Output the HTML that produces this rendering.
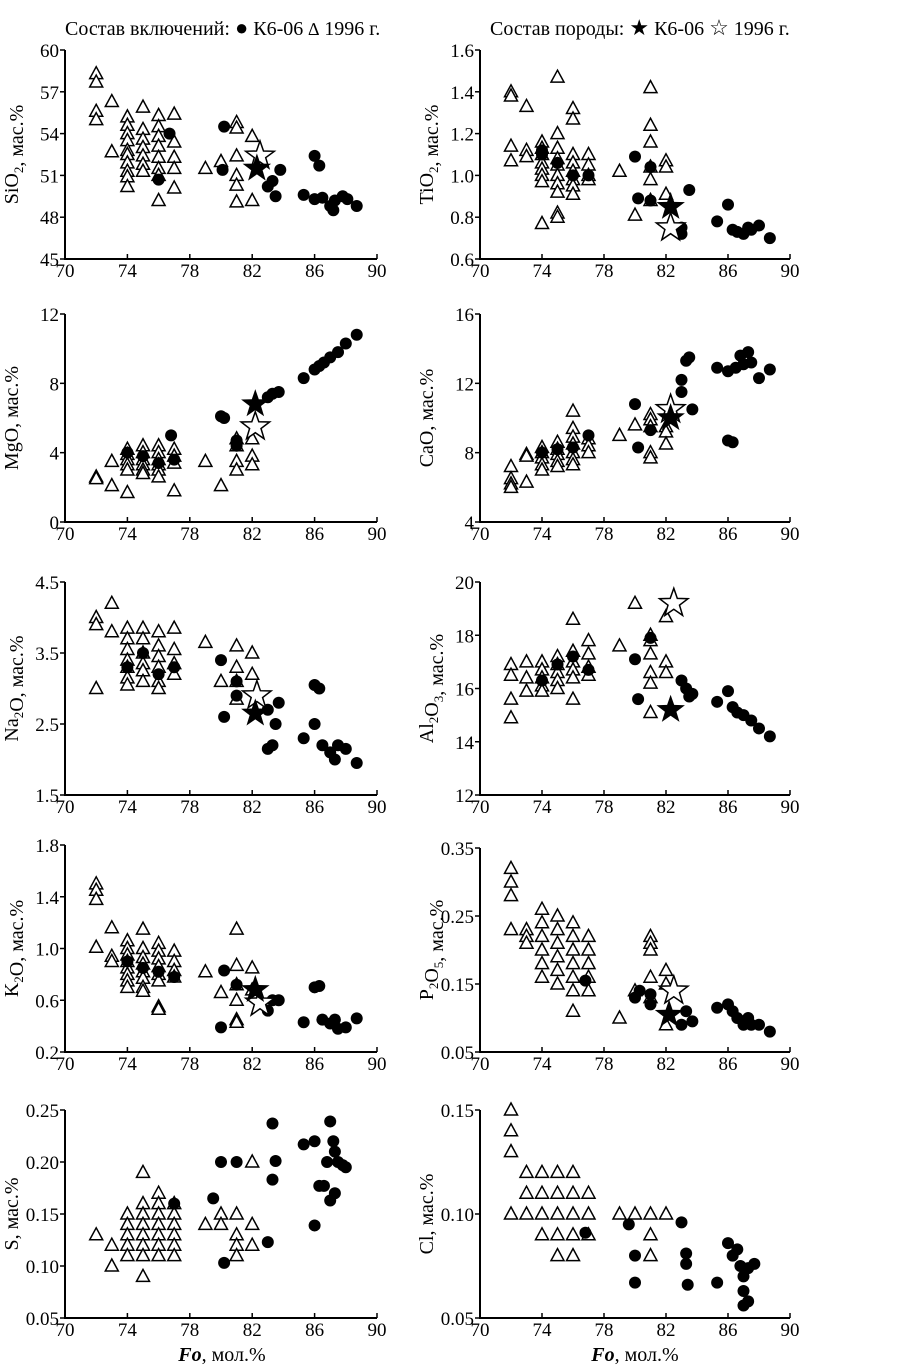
<!DOCTYPE html>
<html><head><meta charset="utf-8">
<style>
html,body{margin:0;padding:0;background:#fff;}
svg{display:block;font-family:"Liberation Serif",serif;}
</style></head>
<body>
<svg id="chart" width="917" height="1366" viewBox="0 0 917 1366" xmlns="http://www.w3.org/2000/svg">
<g>
<text x="65" y="35" font-size="20">Состав включений: <tspan font-size="22">●</tspan> К6-06  <tspan font-size="18">∆</tspan> 1996 г.</text>
</g>
<g>
<text x="490" y="35" font-size="20">Состав породы: <tspan font-size="22">★</tspan> К6-06  <tspan font-size="22">☆</tspan> 1996 г.</text>
</g>
<text x="222" y="1361" font-size="20" text-anchor="middle"><tspan font-style="italic" font-weight="bold">Fo</tspan>, мол.%</text>
<text x="635" y="1361" font-size="20" text-anchor="middle"><tspan font-style="italic" font-weight="bold">Fo</tspan>, мол.%</text>
</svg>
<script>
const xTicks = ["70","74","78","82","86","90"];

// SiO2
const siTri = [[72,[58.3,57.7,55.6,55.0]],[73,[56.3,52.7]],[74,[55.2,54.6,54,53.5,52.8,52.5,51.9,51.3,50.9,50.2]],[75,[55.9,54.3,53.6,53,52.4,51.8,51.3]],[76,[55.3,54.5,53.8,53.1,52.3,51.5,51,49.2]],[77,[55.4,53.4,52.3,51.5,50.1]],[79,[51.5]],[80,[52]],[81,[54.8,54.4,52.4,51,50.3,49.1]],[82,[53.8,49.2]]];
const siCirc = [[76,50.7],[76.7,54],[80.2,54.5],[80.1,51.4],[83,50.2],[83.3,50.6],[83.5,49.5],[83.8,51.4],[85.3,49.6],[86,52.4],[86.3,51.7],[86,49.3],[86.5,49.4],[87,48.8],[87.2,48.5],[87.3,49.2],[87.8,49.5],[88.1,49.3],[88.7,48.8]];
const siStarF = [[82.3,51.5]];
const siStarO = [[82.5,52.4]];
const siTicks = ["45","48","51","54","57","60"];

// TiO2
const tiTri = [[72,[1.4,1.38,1.14,1.07]],[73,[1.33,1.12,1.09]],[74,[1.16,1.13,1.1,1.06,1.03,1.0,0.97,0.77]],[75,[1.47,1.2,1.13,1.08,1.05,1.0,0.96,0.92,0.82,0.8]],[76,[1.32,1.27,1.1,1.06,1.02,0.98,0.95,0.91]],[77,[1.1,1.05,1.0,0.98]],[79,[1.02]],[80,[0.81]],[81,[1.42,1.24,1.16,1.04,0.98,0.88]],[82,[1.07,1.04,0.91]]];
const tiCirc = [[74,1.12],[74,1.1],[75,1.06],[76,1.0],[77,1.0],[80,1.09],[80.2,0.89],[81,0.88],[81,1.04],[83,0.75],[83,0.72],[83.5,0.93],[85.3,0.78],[86,0.86],[86.3,0.74],[86.6,0.73],[87,0.72],[87.3,0.75],[87.5,0.74],[88,0.76],[88.7,0.7]];
const tiStarF = [[82.3,0.85]];
const tiStarO = [[82.3,0.75]];
const tiTicks = ["0.6","0.8","1.0","1.2","1.4","1.6"];

// MgO
const mgTri = [[72,[2.6,2.5]],[73,[3.5,2.1]],[74,[4.2,3.9,3.6,3.3,3.0,1.7]],[75,[4.4,4.0,3.6,3.3,3.0,2.8]],[76,[4.4,4.0,3.6,3.3,3.0,2.6]],[77,[4.2,3.8,3.4,1.8]],[79,[3.5]],[80,[2.1]],[81,[4.8,4.4,3.5,3.0]],[82,[4.8,3.8,3.3]]];
const mgCirc = [[74,4.0],[75,3.8],[76,3.4],[76.8,5.0],[77,3.6],[80,6.1],[80.2,6.0],[81,4.7],[81,4.4],[83,7.2],[83.3,7.4],[83.7,7.5],[85.3,8.3],[86,8.8],[86.3,9.0],[86.6,9.2],[87,9.5],[87.5,9.8],[88,10.3],[88.7,10.8]];
const mgStarF = [[82.2,6.8]];
const mgStarO = [[82.2,5.5]];
const mgTicks = ["0","4","8","12"];

// CaO
const caTri = [[72,[7.2,6.5,6.2,6.0]],[73,[7.9,7.8,6.3]],[74,[8.3,8.0,7.7,7.3,7.0]],[75,[8.6,8.2,7.9,7.5,7.2]],[76,[10.4,9.4,8.9,8.5,8.0,7.6,7.3]],[77,[8.8,8.4,8.0]],[79,[9.0]],[80,[9.6]],[81,[10.2,9.9,9.5,8.0,7.7]],[82,[9.5,9.2,8.5]]];
const caCirc = [[74,8.0],[75,8.2],[76,8.3],[77,9.0],[80,10.8],[80.2,8.3],[81,9.3],[83,12.2],[83.3,13.3],[83.5,13.5],[83,11.5],[83.7,10.5],[85.3,12.9],[86,8.7],[86.3,8.6],[86,12.7],[86.5,12.9],[86.8,13.6],[87,13.1],[87.3,13.8],[87.5,13.2],[88,12.3],[88.7,12.8]];
const caStarF = [[82.3,10.0]];
const caStarO = [[82.3,10.5]];
const caTicks = ["4","8","12","16"];

// Na2O
const naTri = [[72,[4.0,3.9,3.0]],[73,[4.2,3.8]],[74,[3.85,3.7,3.55,3.4,3.3,3.15,3.05]],[75,[3.85,3.7,3.5,3.35,3.25,3.1]],[76,[3.8,3.6,3.45,3.3,3.1,3.0]],[77,[3.85,3.55,3.35,3.2]],[79,[3.65]],[80,[3.1]],[81,[3.6,3.3,3.1,2.85]],[82,[3.5,3.2]]];
const naCirc = [[74,3.3],[75,3.5],[76,3.2],[77,3.3],[80,3.4],[80.2,2.6],[81,3.1],[81,2.9],[83,2.7],[83,2.15],[83.3,2.2],[83.5,2.5],[83.7,2.8],[85.3,2.3],[86,3.05],[86.3,3.0],[86,2.5],[86.5,2.2],[87,2.1],[87.3,2.0],[87.5,2.2],[88,2.15],[88.7,1.95]];
const naStarF = [[82.2,2.65]];
const naStarO = [[82.3,2.9]];
const naTicks = ["1.5","2.5","3.5","4.5"];

// Al2O3
const alTri = [[72,[16.9,16.5,15.6,14.9]],[73,[17.0,16.4,15.9]],[74,[17.0,16.7,16.4,16.1,15.9]],[75,[17.2,16.9,16.6,16.3,16.0]],[76,[18.6,17.4,17.0,16.7,16.4,15.6]],[77,[17.8,17.3,16.8,16.5]],[79,[17.6]],[80,[19.2]],[81,[18.0,17.8,17.3,16.6,16.2,15.1]],[82,[18.7,17.0,16.6]]];
const alCirc = [[74,16.3],[75,16.9],[76,17.2],[77,16.7],[80,17.1],[80.2,15.6],[81,17.9],[83,16.3],[83.3,16.0],[83.5,15.7],[83.7,15.8],[85.3,15.5],[86,15.9],[86.3,15.3],[86.6,15.1],[87,15.0],[87.5,14.8],[88,14.5],[88.7,14.2]];
const alStarF = [[82.3,15.2]];
const alStarO = [[82.5,19.2]];
const alTicks = ["12","14","16","18","20"];

// K2O
const kTri = [[72,[1.5,1.45,1.38,1.01]],[73,[1.16,0.94,0.9]],[74,[1.06,1.0,0.95,0.9,0.85,0.8,0.75,0.7]],[75,[1.15,1.0,0.93,0.88,0.82,0.77,0.7,0.67]],[76,[1.04,0.98,0.92,0.86,0.8,0.75,0.55,0.53]],[77,[0.98,0.9,0.83,0.78]],[79,[0.82]],[80,[0.66]],[81,[1.15,0.87,0.72,0.6,0.45,0.43]],[82,[0.85,0.68]]];
const kCirc = [[74,0.9],[75,0.85],[76,0.82],[77,0.78],[80,0.39],[80.2,0.83],[81,0.72],[83,0.52],[83.3,0.6],[83.7,0.6],[85.3,0.43],[86,0.7],[86.3,0.71],[86.5,0.45],[87,0.42],[87.5,0.38],[88,0.39],[88.7,0.46],[87.3,0.45]];
const kStarF = [[82.2,0.68]];
const kStarO = [[82.5,0.58]];
const kTicks = ["0.2","0.6","1.0","1.4","1.8"];

// P2O5
const pTri = [[72,[0.32,0.3,0.28,0.23]],[73,[0.23,0.22,0.21]],[74,[0.26,0.24,0.22,0.2,0.18,0.16]],[75,[0.25,0.23,0.21,0.19,0.17,0.15]],[76,[0.24,0.22,0.2,0.18,0.16,0.14,0.11]],[77,[0.22,0.2,0.18,0.16,0.14]],[79,[0.1]],[80,[0.14]],[81,[0.22,0.21,0.2,0.16,0.13]],[82,[0.17,0.15,0.09]]];
const pCirc = [[76.8,0.155],[80,0.13],[80.3,0.14],[81,0.135],[81,0.12],[83,0.09],[83.3,0.11],[83.7,0.095],[85.3,0.115],[86,0.12],[86.3,0.11],[86.6,0.1],[87,0.09],[87.3,0.1],[87.5,0.09],[88,0.09],[88.7,0.08]];
const pStarF = [[82.2,0.105]];
const pStarO = [[82.5,0.14]];
const pTicks = ["0.05","0.15","0.25","0.35"];

// S
const sTri = [[72,[0.13]],[73,[0.12,0.1]],[74,[0.15,0.14,0.13,0.12,0.11]],[75,[0.19,0.16,0.15,0.14,0.13,0.12,0.11,0.09]],[76,[0.17,0.16,0.15,0.14,0.13,0.12,0.11]],[77,[0.16,0.15,0.14,0.13,0.12,0.11]],[79,[0.14]],[80,[0.15,0.14]],[81,[0.15,0.13,0.12,0.11]],[82,[0.2,0.14,0.12]]];
const sCirc = [[77,0.16],[79.5,0.165],[80,0.2],[80.2,0.103],[81,0.2],[83,0.123],[83.3,0.237],[83.3,0.183],[83.5,0.201],[85.3,0.217],[86,0.22],[86,0.139],[86.3,0.177],[86.6,0.177],[86.8,0.2],[87,0.239],[87.2,0.22],[87.3,0.21],[87.5,0.2],[87,0.163],[87.3,0.17],[87.8,0.197],[88,0.195]];
const sTicks = ["0.05","0.10","0.15","0.20","0.25"];

// Cl
const clTri = [[72,[0.15,0.14,0.13,0.1]],[73,[0.12,0.11,0.1]],[74,[0.12,0.11,0.1,0.09]],[75,[0.12,0.11,0.1,0.09,0.08]],[76,[0.12,0.11,0.1,0.09,0.08]],[77,[0.11,0.1,0.09]],[79,[0.1]],[80,[0.1]],[81,[0.1,0.09,0.08]],[82,[0.1]]];
const clCirc = [[76.8,0.091],[79.6,0.095],[80,0.08],[80,0.067],[83,0.096],[83.3,0.081],[83.3,0.076],[83.4,0.066],[85.3,0.067],[86,0.086],[86.3,0.08],[86.6,0.083],[87,0.07],[87,0.063],[87,0.056],[87.3,0.058],[87.3,0.074],[87.7,0.076],[86.8,0.075]];
const clTicks = ["0.05","0.10","0.15"];

const NS = "http://www.w3.org/2000/svg";
const svg = document.getElementById('chart');
function mk(tag, attrs, parent){const e=document.createElementNS(NS,tag);for(const k in attrs)e.setAttribute(k,attrs[k]);(parent||svg).appendChild(e);return e;}

const panels = [
 {key:'sio2',ox:'SiO',sub:'2',side:0,top:50,bot:259,tri:siTri,circ:siCirc,sf:siStarF,so:siStarO,ticks:siTicks},
 {key:'tio2',ox:'TiO',sub:'2',side:1,top:50,bot:259,tri:tiTri,circ:tiCirc,sf:tiStarF,so:tiStarO,ticks:tiTicks},
 {key:'mgo',ox:'MgO',sub:'',side:0,top:314,bot:522,tri:mgTri,circ:mgCirc,sf:mgStarF,so:mgStarO,ticks:mgTicks},
 {key:'cao',ox:'CaO',sub:'',side:1,top:314,bot:522,tri:caTri,circ:caCirc,sf:caStarF,so:caStarO,ticks:caTicks},
 {key:'na2o',ox:'Na',sub:'2',ox2:'O',side:0,top:582,bot:795,tri:naTri,circ:naCirc,sf:naStarF,so:naStarO,ticks:naTicks},
 {key:'al2o3',ox:'Al',sub:'2',ox2:'O',sub2:'3',side:1,top:582,bot:795,tri:alTri,circ:alCirc,sf:alStarF,so:alStarO,ticks:alTicks},
 {key:'k2o',ox:'K',sub:'2',ox2:'O',side:0,top:845,bot:1052,tri:kTri,circ:kCirc,sf:kStarF,so:kStarO,ticks:kTicks},
 {key:'p2o5',ox:'P',sub:'2',ox2:'O',sub2:'5',side:1,top:848,bot:1052,tri:pTri,circ:pCirc,sf:pStarF,so:pStarO,ticks:pTicks},
 {key:'s',ox:'S',sub:'',side:0,top:1110,bot:1318,tri:sTri,circ:sCirc,sf:[],so:[],ticks:sTicks},
 {key:'cl',ox:'Cl',sub:'',side:1,top:1110,bot:1318,tri:clTri,circ:clCirc,sf:[],so:[],ticks:clTicks}
];

function starPts(cx,cy,R){const r=R*0.4;let p=[];for(let i=0;i<10;i++){const a=-Math.PI/2+i*Math.PI/5;const rr=i%2?r:R;p.push((cx+rr*Math.cos(a)).toFixed(1)+','+(cy+rr*Math.sin(a)).toFixed(1));}return p.join(' ');}

panels.forEach(P=>{
  const x0 = P.side ? 480 : 65, x1 = P.side ? 790 : 377;
  const xMin=+xTicks[0], xMax=+xTicks[xTicks.length-1];
  const yMin=+P.ticks[0], yMax=+P.ticks[P.ticks.length-1];
  const X=v=>x0+(v-xMin)/(xMax-xMin)*(x1-x0);
  const Y=v=>P.bot-(v-yMin)/(yMax-yMin)*(P.bot-P.top);
  const g=mk('g',{});
  
  
  const ax=mk('path',{d:`M${x0},${P.top}V${P.bot}H${x1}`,fill:'none',stroke:'#000','stroke-width':2},g);
  
  
  P.ticks.forEach(t=>{
    const y=Y(+t);
    mk('line',{x1:x0-5,y1:y,x2:x0,y2:y,stroke:'#000','stroke-width':1.5},g);
    const tx=mk('text',{x:x0-6,y:y+7,'font-size':19,'text-anchor':'end'},g);
    tx.textContent=t;
    
    
  });
  xTicks.forEach(t=>{
    const x=X(+t);
    mk('line',{x1:x,y1:P.bot,x2:x,y2:P.bot-5,stroke:'#000','stroke-width':1.5},g);
    const tx=mk('text',{x:x,y:P.bot+18,'font-size':19,'text-anchor':'middle'},g);
    tx.textContent=t;
    
    
  });
  const cy=(P.top+P.bot)/2, tx0=x0-47;
  const yt=mk('text',{x:tx0,y:cy,'font-size':20,'text-anchor':'middle',transform:`rotate(-90 ${tx0} ${cy})`},g);
  
  
  let html=P.ox;
  if(P.sub) html+=`<tspan font-size="13" dy="5">${P.sub}</tspan><tspan dy="-5"></tspan>`;
  if(P.ox2) html+=P.ox2;
  if(P.sub2) html+=`<tspan font-size="13" dy="5">${P.sub2}</tspan><tspan dy="-5"></tspan>`;
  html+=',  мас.%';
  yt.innerHTML=html;
  P.tri.forEach(([fo,vals])=>vals.forEach(v=>{
    const x=X(fo),y=Y(v);
    const t=mk('polygon',{points:`${x},${y-7} ${x-6.5},${y+5} ${x+6.5},${y+5}`,fill:'#fff',stroke:'#000','stroke-width':1.5},g);
    
    
  }));
  P.circ.forEach(([fo,v])=>{
    const c=mk('circle',{cx:X(fo),cy:Y(v),r:6,fill:'#000'},g);
    
    
  });
  P.so.forEach(([fo,v])=>{
    const s=mk('polygon',{points:starPts(X(fo),Y(v),15),fill:'#fff',stroke:'#000','stroke-width':1.5},g);
    
    
  });
  P.sf.forEach(([fo,v])=>{
    const s=mk('polygon',{points:starPts(X(fo),Y(v),15),fill:'#000'},g);
    
    
  });
});
</script>
</body></html>
